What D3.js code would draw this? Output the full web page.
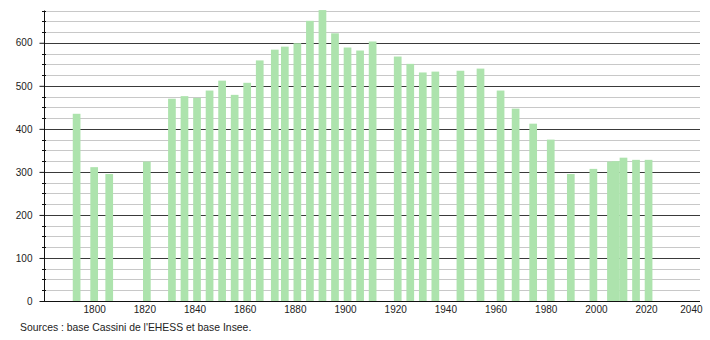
<!DOCTYPE html>
<html>
<head>
<meta charset="utf-8">
<script src="https://cdn.jsdelivr.net/npm/d3@7"></script>
<style>
  html, body { margin: 0; padding: 0; background: #fff; }
  svg { display: block; font-family: "Liberation Sans", Arial, sans-serif; }
</style>
</head>
<body>
<svg id="chart" width="710" height="340"></svg>
<script>
// ---- data ----
const years = [1793, 1800, 1806, 1821, 1831, 1836, 1841, 1846, 1851, 1856, 1861, 1866,
  1872, 1876, 1881, 1886, 1891, 1896, 1901, 1906, 1911, 1921, 1926, 1931, 1936, 1946,
  1954, 1962, 1968, 1975, 1982, 1990, 1999, 2006, 2008, 2011, 2016, 2021];
const population = [435, 311, 295, 324, 470, 476, 472, 489, 512, 479, 507, 559,
  584, 591, 599, 651, 676, 622, 589, 582, 603, 568, 551, 531, 533, 535,
  540, 489, 447, 412, 375, 295, 307, 324, 325, 333, 328, 328];
const xTicks = [1800, 1820, 1840, 1860, 1880, 1900, 1920, 1940, 1960, 1980, 2000, 2020, 2040];
const yTicks = [0, 100, 200, 300, 400, 500, 600];
const yMinor = [25, 50, 75, 125, 150, 175, 225, 250, 275, 325, 350, 375, 425, 450, 475, 525, 550, 575, 625, 650, 675];
const sourceText = "Sources : base Cassini de l'EHESS et base Insee.";

// ---- layout ----
const mLeft = 44, mRight = 700, mTop = 10.5, mBottom = 301;
const svg = d3.select("#chart");
const x = d3.scaleLinear().domain([1780, 2041.5]).range([mLeft, mRight]);
const y = d3.scaleLinear().domain([0, 675]).range([mBottom, mTop]);
const barW = 7.7;

// minor gridlines
svg.append("g").selectAll("line").data(yMinor).join("line")
  .attr("x1", mLeft).attr("x2", mRight)
  .attr("y1", d => Math.round(y(d)) + 0.5).attr("y2", d => Math.round(y(d)) + 0.5)
  .attr("stroke", "#c8c8c8").attr("stroke-width", 1);

// major gridlines
svg.append("g").selectAll("line").data(yTicks.filter(d => d > 0)).join("line")
  .attr("x1", mLeft).attr("x2", mRight)
  .attr("y1", d => Math.round(y(d)) + 0.5).attr("y2", d => Math.round(y(d)) + 0.5)
  .attr("stroke", "#3a3a3a").attr("stroke-width", 1);

// bars
const data = years.map((yr, i) => ({ yr, v: population[i] }));
svg.append("g").selectAll("rect").data(data).join("rect")
  .attr("x", d => x(d.yr) - barW / 2)
  .attr("width", barW)
  .attr("y", d => y(d.v))
  .attr("height", d => mBottom - y(d.v))
  .attr("fill", "#ade3ad");

// y axis
const yAxis = d3.axisLeft(y).tickValues(yTicks).tickSize(5).tickPadding(7).tickFormat(d3.format("d"));
const gy = svg.append("g").attr("transform", `translate(${mLeft + 0.5},0)`).call(yAxis);
gy.select(".domain").remove();
gy.selectAll(".tick line").attr("stroke", "#111");
gy.selectAll("text").attr("font-size", 10).attr("fill", "#222")
  .attr("font-family", "Liberation Sans, Arial, sans-serif");
svg.append("line").attr("x1", mLeft + 0.5).attr("x2", mLeft + 0.5)
  .attr("y1", mTop).attr("y2", mBottom).attr("stroke", "#111");
// minor ticks on y axis
svg.append("g").selectAll("line").data(yMinor).join("line")
  .attr("x1", mLeft - 2).attr("x2", mLeft + 2)
  .attr("y1", d => Math.round(y(d)) + 0.5).attr("y2", d => Math.round(y(d)) + 0.5)
  .attr("stroke", "#111");

// x axis
const xAxis = d3.axisBottom(x).tickValues(xTicks).tickSize(0).tickPadding(4).tickFormat(d3.format("d"));
const gx = svg.append("g").attr("transform", `translate(0,${mBottom + 0.5})`).call(xAxis);
gx.select(".domain").remove();
gx.selectAll("text").attr("font-size", 10).attr("fill", "#222")
  .attr("font-family", "Liberation Sans, Arial, sans-serif");
// keep last label inside the plot
gx.selectAll(".tick").filter(d => d === 2040).select("text")
  .attr("text-anchor", "end").attr("dx", x(2041.5) + 2 - x(2040));
svg.append("line").attr("x1", mLeft).attr("x2", mRight)
  .attr("y1", mBottom + 0.5).attr("y2", mBottom + 0.5).attr("stroke", "#111");

// source
svg.append("text").attr("x", 20).attr("y", 331)
  .attr("font-size", 10.4).attr("fill", "#222")
  .text(sourceText);
</script>
</body>
</html>
